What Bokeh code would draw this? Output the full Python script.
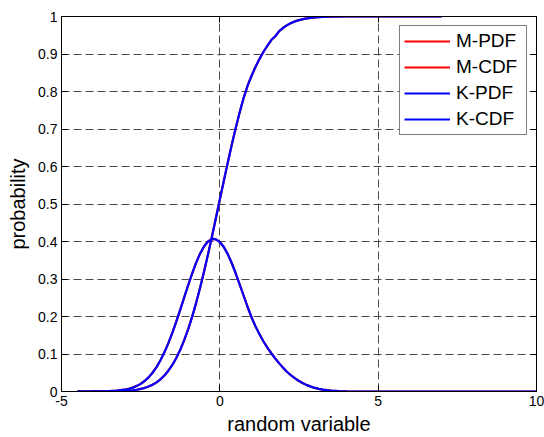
from bokeh.plotting import figure
from bokeh.models import FixedTicker, LinearAxis, Legend, LegendItem, Range1d
from bokeh.embed import file_html
from bokeh.resources import INLINE

# ---- data ----
pdf_x = [-4.5, -4.0, -3.5, -3.25, -3.0, -2.875, -2.75, -2.625, -2.5, -2.375, -2.25, -2.125,
         -2.0, -1.875, -1.75, -1.625, -1.5, -1.375, -1.25, -1.125, -1.0, -0.875, -0.75, -0.625,
         -0.5, -0.375, -0.25, -0.2, -0.125, 0.0, 0.125, 0.25, 0.375, 0.5, 0.625, 0.75, 0.875,
         1.0, 1.125, 1.25, 1.375, 1.5, 1.625, 1.75, 1.875, 2.0, 2.125, 2.25, 2.375, 2.5, 2.625,
         2.75, 2.875, 3.0, 3.125, 3.25, 3.375, 3.5, 3.75, 4.0, 4.5, 5.0, 6.0, 7.0, 8.0, 9.0, 10.0]
k_pdf = [0.0, 0.0001, 0.0009, 0.0021, 0.0048, 0.0071, 0.0103, 0.0146, 0.0204, 0.0280, 0.0377, 0.0500,
         0.0651, 0.0832, 0.1045, 0.1290, 0.1564, 0.1864, 0.2181, 0.2508, 0.2833, 0.3145, 0.3430, 0.3675,
         0.3868, 0.4000, 0.4064, 0.4070, 0.4058, 0.3986, 0.3852, 0.3663, 0.3427, 0.3153, 0.2855, 0.2560, 0.2260,
         0.1980, 0.1740, 0.1530, 0.1340, 0.1170, 0.1020, 0.0880, 0.0750, 0.0630, 0.0520, 0.0430, 0.0350, 0.0280, 0.0220,
         0.0170, 0.0130, 0.0095, 0.0070, 0.0050, 0.0035, 0.0024, 0.0010, 0.0004, 0.0, 0.0, 0.0, 0.0, 0.0, 0.0, 0.0]
m_pdf = [0.0, 0.0001, 0.0009, 0.0021, 0.0048, 0.0071, 0.0103, 0.0146, 0.0204, 0.0280, 0.0377, 0.0500,
         0.0651, 0.0832, 0.1045, 0.1290, 0.1564, 0.1864, 0.2181, 0.2508, 0.2833, 0.3145, 0.3430, 0.3675,
         0.3868, 0.4000, 0.4064, 0.4070, 0.4058, 0.3986, 0.3852, 0.3663, 0.3427, 0.3153, 0.2855, 0.2560, 0.2260,
         0.1980, 0.1740, 0.1530, 0.1340, 0.1170, 0.1020, 0.0880, 0.0750, 0.0630, 0.0520, 0.0430, 0.0350, 0.0280, 0.0220,
         0.0170, 0.0130, 0.0095, 0.0070, 0.0050, 0.0035, 0.0024, 0.0010, 0.0004, 0.0, 0.0, 0.0, 0.0, 0.0, 0.0, 0.0]

cdf_x = [-4.5, -4.0, -3.5, -3.25, -3.0, -2.875, -2.75, -2.625, -2.5, -2.375, -2.25, -2.125,
         -2.0, -1.875, -1.75, -1.625, -1.5, -1.375, -1.25, -1.125, -1.0, -0.875, -0.75, -0.625,
         -0.5, -0.375, -0.25, -0.125, 0.0, 0.125, 0.25, 0.375, 0.5, 0.625, 0.75, 0.875,
         1.0, 1.125, 1.25, 1.375, 1.5, 1.625, 1.75, 1.875, 2.0, 2.125, 2.25, 2.375, 2.5, 2.625,
         2.75, 2.875, 3.0, 3.25, 3.5, 4.0, 5.0, 6.0, 7.0]
k_cdf = [0.0, 0.00004, 0.00026, 0.00064, 0.0015, 0.0022, 0.0033, 0.0047, 0.0068, 0.0095, 0.0132, 0.0181,
         0.0244, 0.0325, 0.0427, 0.0554, 0.0708, 0.0893, 0.1112, 0.1368, 0.1660, 0.1991, 0.2358, 0.2759,
         0.3192, 0.3650, 0.4129, 0.4622, 0.5120, 0.5616, 0.6103, 0.6573, 0.7019, 0.7438, 0.7823, 0.8150,
         0.8413, 0.8654, 0.8864, 0.9054, 0.9217, 0.9373, 0.9474, 0.9611, 0.9699, 0.9770, 0.9826, 0.9870, 0.9904, 0.9930,
         0.9950, 0.9964, 0.9975, 0.9988, 0.9995, 1.0, 1.0, 1.0, 1.0]
m_cdf = [0.0, 0.00004, 0.00026, 0.00064, 0.0015, 0.0022, 0.0033, 0.0047, 0.0068, 0.0095, 0.0132, 0.0181,
         0.0244, 0.0325, 0.0427, 0.0554, 0.0708, 0.0893, 0.1112, 0.1368, 0.1660, 0.1991, 0.2358, 0.2759,
         0.3192, 0.3650, 0.4129, 0.4622, 0.5120, 0.5616, 0.6103, 0.6573, 0.7019, 0.7438, 0.7823, 0.8150,
         0.8413, 0.8654, 0.8864, 0.9054, 0.9217, 0.9373, 0.9474, 0.9611, 0.9699, 0.9770, 0.9826, 0.9870, 0.9904, 0.9930,
         0.9950, 0.9964, 0.9975, 0.9988, 0.9995, 1.0, 1.0, 1.0, 1.0]

series_labels = ["M-PDF", "M-CDF", "K-PDF", "K-CDF"]
x_ticks = [-5, 0, 5, 10]
x_tick_labels = ["-5", "0", "5", "10"]
y_ticks = [0, 0.1, 0.2, 0.3, 0.4, 0.5, 0.6, 0.7, 0.8, 0.9, 1]
y_tick_labels = ["0", "0.1", "0.2", "0.3", "0.4", "0.5", "0.6", "0.7", "0.8", "0.9", "1"]

FONT = "Liberation Sans"

p = figure(width=544, height=437, x_range=Range1d(-5, 10), y_range=Range1d(0, 1),
           output_backend="svg", toolbar_location=None,
           min_border_left=61, min_border_right=8, min_border_top=16, min_border_bottom=46)
p.background_fill_color = "white"
p.border_fill_color = "white"
p.outline_line_color = "black"
p.outline_line_width = 1
p.outline_line_alpha = 1

def style_axis(ax, ticks, labels, show_labels=True):
    ax.ticker = FixedTicker(ticks=ticks)
    ax.minor_tick_line_color = None
    ax.major_tick_in = 6
    ax.major_tick_out = 0
    ax.major_tick_line_color = "black"
    ax.axis_line_color = "black"
    ax.major_label_text_font = FONT
    ax.major_label_text_font_size = "14px"
    ax.major_label_text_color = "black"
    ax.major_label_standoff = 4
    if show_labels:
        ax.major_label_overrides = {t: l for t, l in zip(ticks, labels)}
    else:
        ax.major_label_overrides = {t: "" for t in ticks}
    ax.axis_label_text_font = FONT
    ax.axis_label_text_font_size = "20px"
    ax.axis_label_text_font_style = "normal"
    ax.axis_label_text_color = "black"

style_axis(p.xaxis[0], x_ticks, x_tick_labels)
style_axis(p.yaxis[0], y_ticks, y_tick_labels)
p.xaxis[0].axis_label = "random variable"
p.xaxis[0].axis_label_standoff = 4
p.yaxis[0].axis_label = "probability"
p.yaxis[0].axis_label_standoff = 6

top_ax = LinearAxis()
style_axis(top_ax, x_ticks, x_tick_labels, show_labels=False)
top_ax.major_label_text_font_size = "1px"
top_ax.major_label_standoff = 0
p.add_layout(top_ax, "above")
right_ax = LinearAxis()
style_axis(right_ax, y_ticks, y_tick_labels, show_labels=False)
right_ax.major_label_text_font_size = "1px"
right_ax.major_label_standoff = 0
p.add_layout(right_ax, "right")

for g in (p.xgrid[0], p.ygrid[0]):
    g.grid_line_color = "#4a4a4a"
    g.grid_line_dash = "8 4"
    g.grid_line_width = 1
p.xgrid[0].ticker = FixedTicker(ticks=x_ticks)
p.ygrid[0].ticker = FixedTicker(ticks=y_ticks)

r_mpdf = p.line(pdf_x, m_pdf, line_color="#ff0000", line_width=2.2)
r_mcdf = p.line(cdf_x, m_cdf, line_color="#ff0000", line_width=2.2)
r_kpdf = p.line(pdf_x, k_pdf, line_color="#0000ff", line_width=2.2)
r_kcdf = p.line(cdf_x, k_cdf, line_color="#0000ff", line_width=2.2)

legend = Legend(items=[LegendItem(label=series_labels[0], renderers=[r_mpdf]),
                       LegendItem(label=series_labels[1], renderers=[r_mcdf]),
                       LegendItem(label=series_labels[2], renderers=[r_kpdf]),
                       LegendItem(label=series_labels[3], renderers=[r_kcdf])],
                location="top_right")
legend.label_text_font = FONT
legend.label_text_font_size = "19px"
legend.label_text_color = "black"
legend.glyph_width = 46
legend.glyph_height = 20
legend.label_height = 20
legend.label_width = 66
legend.label_standoff = 6
legend.spacing = 4
legend.padding = 4
legend.margin = 9
legend.border_line_color = "black"
legend.border_line_width = 1
legend.background_fill_color = "white"
legend.background_fill_alpha = 1
p.add_layout(legend)

open("out.html", "w").write(file_html(p, INLINE))
